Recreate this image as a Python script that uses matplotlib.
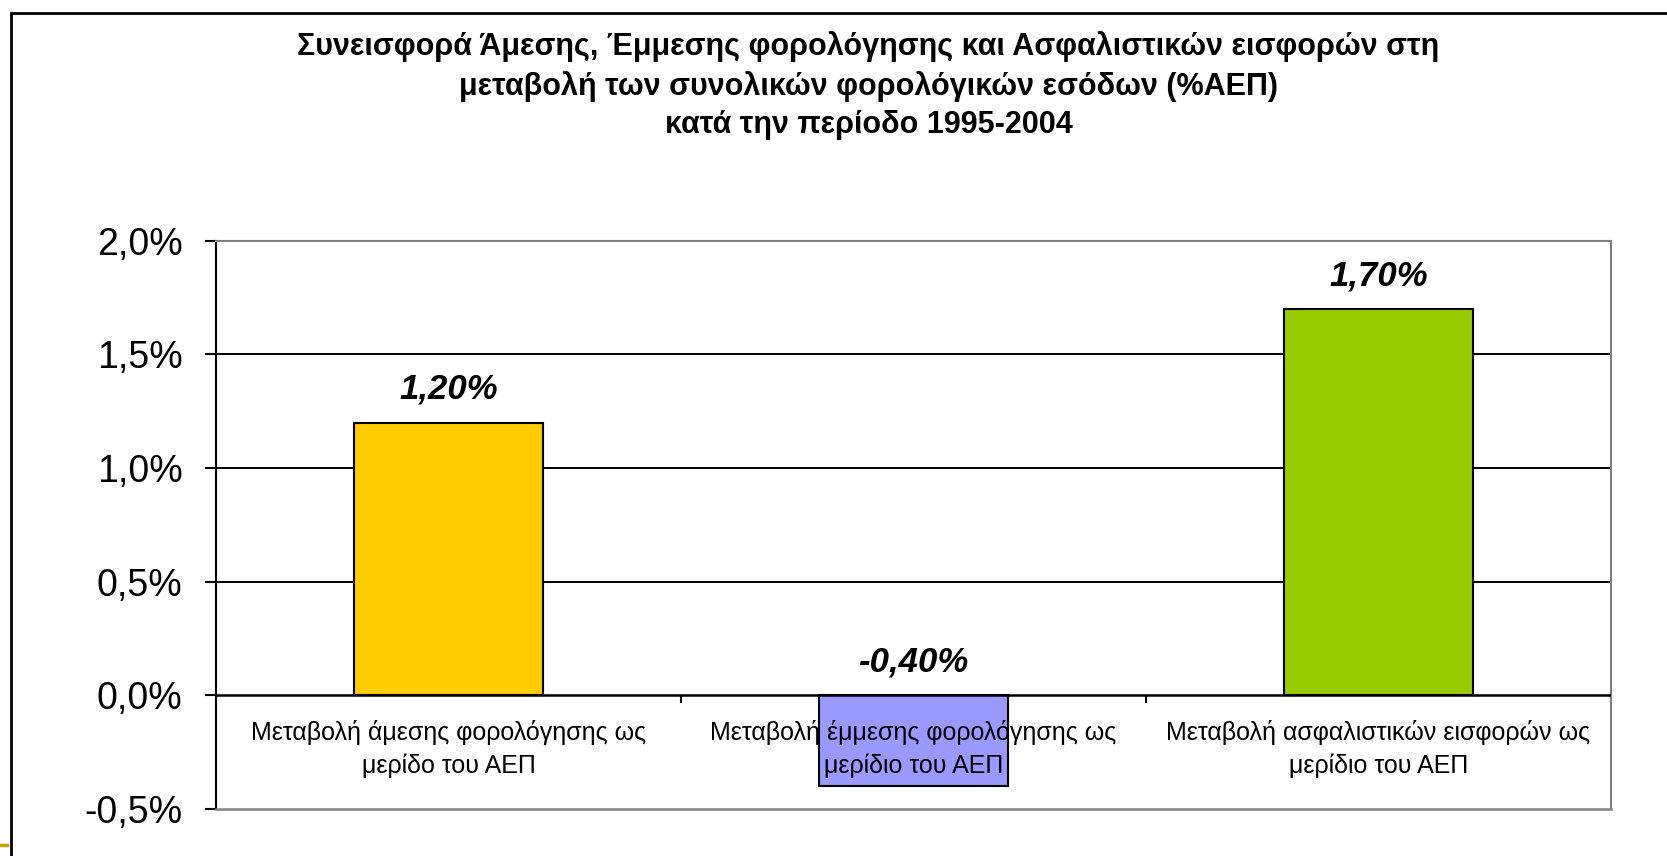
import matplotlib
matplotlib.use("Agg")
import matplotlib.pyplot as plt
from matplotlib.patches import Rectangle
from matplotlib.lines import Line2D
from matplotlib.ticker import FuncFormatter

plt.rcParams['font.family'] = ['Liberation Sans', 'DejaVu Sans']

# data
categories = ["Μεταβολή άμεσης φορολόγησης ως\nμερίδο του ΑΕΠ",
              "Μεταβολή έμμεσης φορολόγησης ως\nμερίδιο του ΑΕΠ",
              "Μεταβολή ασφαλιστικών εισφορών ως\nμερίδιο του ΑΕΠ"]
values = [1.20, -0.40, 1.70]
bar_colors = ["#FFCC00", "#9999FF", "#99CC00"]
yticks = [-0.5, 0.0, 0.5, 1.0, 1.5, 2.0]
title = ("Συνεισφορά Άμεσης, Έμμεσης φορολόγησης και Ασφαλιστικών εισφορών στη\n"
         "μεταβολή των συνολικών φορολόγικών εσόδων (%ΑΕΠ)\n"
         "κατά την περίοδο 1995-2004")

fig = plt.figure(figsize=(16.67, 8.56), dpi=100)
ax = fig.add_axes([0.1296, 0.0549, 0.8368, 0.6639])

x = list(range(len(values)))
ax.bar(x, values, width=0.405, color=bar_colors, edgecolor="black", linewidth=1.5, zorder=3)

ax.set_xlim(-0.5, len(values) - 0.5)
ax.set_ylim(yticks[0], yticks[-1])

# gridlines (below bars)
for t in yticks[2:-1]:
    ax.axhline(t, color="black", lw=1.4, zorder=1)
ax.axhline(0, color="black", lw=1.8, zorder=4)

ax.set_yticks(yticks)
ax.yaxis.set_major_formatter(FuncFormatter(lambda v, p: f"{v:.1f}%".replace(".", ",")))
ax.tick_params(axis="y", labelsize=27, length=8, width=1.5, pad=16, color="black")

# x ticks at category boundaries on the zero line
ax.set_xticks([i + 0.5 for i in x])
ax.set_xticklabels([])
ax.spines['bottom'].set_position(('data', 0))
ax.spines['bottom'].set_visible(False)
ax.tick_params(axis="x", length=6, width=1.5, direction="out")
ax.axhline(yticks[0], color="#808080", lw=1.8, zorder=4, clip_on=False)

for side in ["top", "right"]:
    ax.spines[side].set_color("#808080")
    ax.spines[side].set_linewidth(1.5)
ax.spines['left'].set_color("black")
ax.spines['left'].set_linewidth(1.5)

# category labels
for i, c in enumerate(categories):
    ax.text(i, -0.11, c, ha="center", va="top", fontsize=18, linespacing=1.42, zorder=5)

# value labels
for i, v in enumerate(values):
    ax.annotate(f"{v:.2f}%".replace(".", ","), (i, max(v, 0)), xytext=(0, 24),
                textcoords="offset points", ha="center", va="center",
                fontsize=25, fontweight="bold", fontstyle="italic", zorder=5)

fig.text(0.521, 1 - 31 / 856, title, ha="center", va="top", fontsize=22,
         fontweight="bold", linespacing=1.36)

# outer frame of the chart object
fig.add_artist(Rectangle((11 / 1667, -0.1), 1.2, 1 - 13 / 856 + 0.1, transform=fig.transFigure,
                         fill=False, edgecolor="black", lw=2, clip_on=False))
fig.add_artist(Line2D([0, 7 / 1667], [1 - 845 / 856] * 2, transform=fig.transFigure,
                      color="#C8A000", lw=2.5))

fig.savefig("out.png", dpi=100)
